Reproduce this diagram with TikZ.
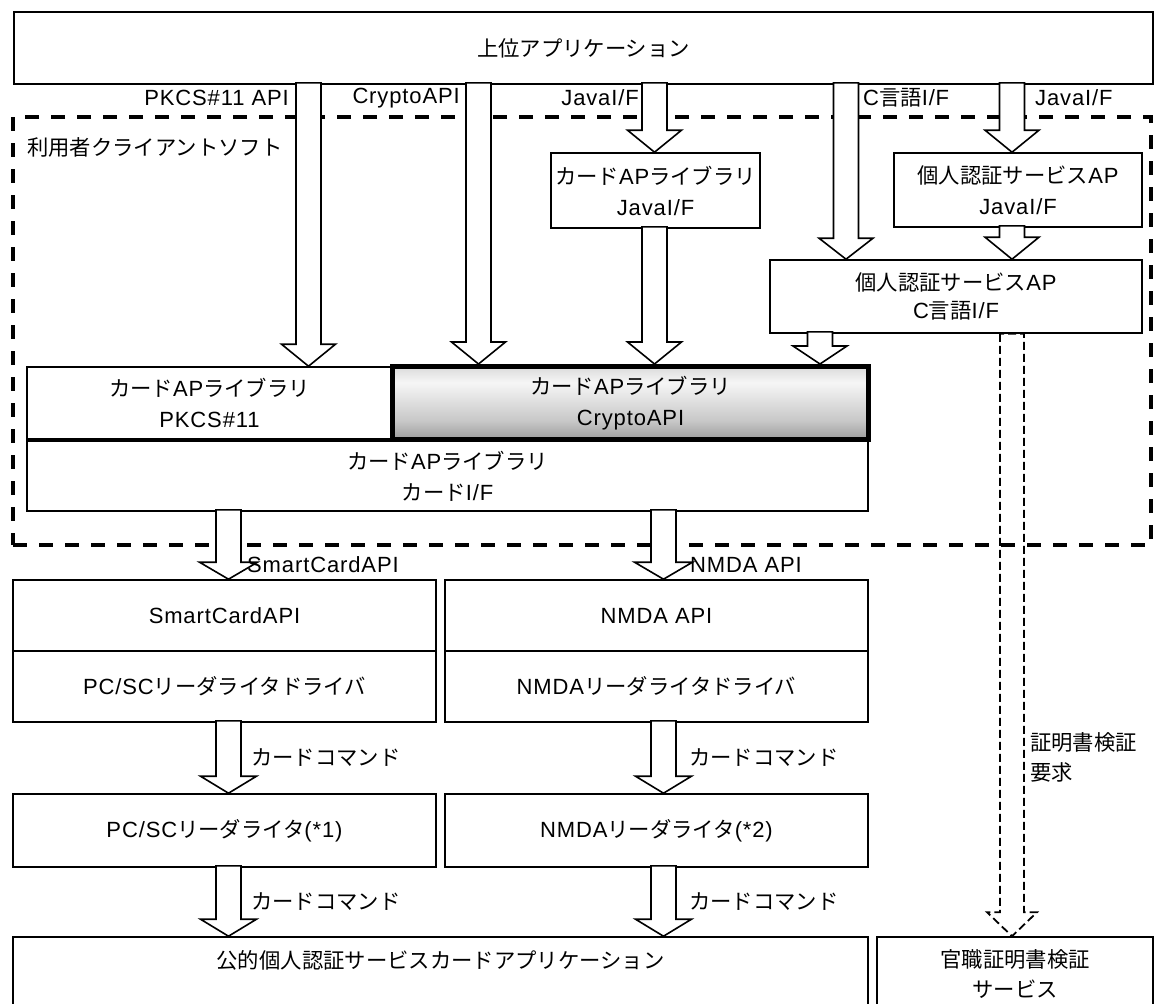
\documentclass[tikz,border=0pt]{standalone}
\usepackage{fontspec}
\setmainfont{Liberation Sans}[LetterSpace=4]
\newfontfamily\jpf{Noto Sans CJK JP}[Scale=0.97]
\newcommand\jpt[1]{{\jpf #1}}
\usetikzlibrary{calc}
\definecolor{gA}{HTML}{3A3A3A}
\definecolor{gB}{HTML}{707070}
\definecolor{gC}{HTML}{C8C8C8}
\definecolor{gD}{HTML}{F6F6F6}
\definecolor{gE}{HTML}{C4C4C4}
\definecolor{gF}{HTML}{747474}
\pgfdeclareverticalshading{cryptoshade}{100bp}{color(0bp)=(gA); color(12bp)=(gB); color(38bp)=(gC); color(64bp)=(gD); color(84bp)=(gE); color(100bp)=(gF)}
\tikzset{
  box/.style={draw, line width=1.6pt, inner sep=0pt, align=center, font=\fontsize{22}{31}\selectfont},
  lbl/.style={inner sep=0pt, font=\fontsize{22}{30}\selectfont},
  barr/.style={draw, fill=white, line width=1.6pt, line join=miter},
  darr/.style={draw, line width=1.8pt, dash pattern=on 8pt off 4pt},
  region/.style={draw, line width=4pt, dash pattern=on 14pt off 12pt, inner sep=0pt},
}
% block arrow: x, from node, to node, head length, head half width
\newcommand\barrow[5]{%
  \draw[barr] let \p1=(#1,0 |- #2.south), \p2=(#1,0 |- #3.north) in
    (\x1-12.5pt,\y1+2pt) -- (\x1-12.5pt,\y2+#4pt) -- (\x1-#5pt,\y2+#4pt) -- (\x2,\y2)
    -- (\x1+#5pt,\y2+#4pt) -- (\x1+12.5pt,\y2+#4pt) -- (\x1+12.5pt,\y1+2pt) -- cycle;}
\newcommand\darrow[5]{%
  \draw[darr] let \p1=(#1,0 |- #2.south), \p2=(#1,0 |- #3.north) in
    (\x1-12pt,\y1) -- (\x1-12pt,\y2+#4pt) -- (\x1-#5pt,\y2+#4pt) -- (\x2,\y2)
    -- (\x1+#5pt,\y2+#4pt) -- (\x1+12pt,\y2+#4pt) -- (\x1+12pt,\y1) -- cycle;}
\begin{document}
\begin{tikzpicture}[x=1pt,y=-1pt]
\useasboundingbox (0,0) rectangle (1162,1004);
% top application
\node[box, minimum width=1139pt, minimum height=72pt] (top) at (583.5,48) {\jpt{上位アプリケーション}};
% client software region
\node[region, minimum width=1138pt, minimum height=428pt] (client) at (582,331) {};
\node[lbl, anchor=west] (clientlbl) at (27,147) {\jpt{利用者クライアントソフト}};
% upper boxes
\node[box, minimum width=209pt, minimum height=75pt] (cardjava) at (655.5,190.5) {\jpt{カード}AP\jpt{ライブラリ}\\JavaI/F};
\node[box, minimum width=248pt, minimum height=74pt] (persjava) at (1018,190) {\jpt{個人認証サービス}AP\\JavaI/F};
\node[box, minimum width=372pt, minimum height=73pt, font=\fontsize{22}{28}\selectfont] (cbox) at (956,296.5) {\jpt{個人認証サービス}AP\\C\jpt{言語}I/F};
% card AP libraries
\node[box, minimum width=365pt, minimum height=72pt] (pkcs) at (209.5,403) {\jpt{カード}AP\jpt{ライブラリ}\\PKCS\#11};
\node[box, minimum width=841pt, minimum height=70pt] (cardif) at (447.5,476) {\jpt{カード}AP\jpt{ライブラリ}\\\jpt{カード}I/F};
\node[box, line width=5pt, shade, shading=cryptoshade, minimum width=476pt, minimum height=73pt] (crypto) at (630.5,403) {\jpt{カード}AP\jpt{ライブラリ}\\CryptoAPI};
% driver layer
\node[box, minimum width=423pt, minimum height=71pt] (sc1) at (224.5,615.5) {SmartCardAPI};
\node[box, minimum width=423pt, minimum height=71pt] (sc2) at (224.5,686.5) {PC/SC\jpt{リーダライタドライバ}};
\node[box, minimum width=423pt, minimum height=71pt] (nm1) at (656.5,615.5) {NMDA API};
\node[box, minimum width=423pt, minimum height=71pt] (nm2) at (656.5,686.5) {NMDA\jpt{リーダライタドライバ}};
% readers
\node[box, minimum width=423pt, minimum height=73pt] (pcsc) at (224.5,830.5) {PC/SC\jpt{リーダライタ}(*1)};
\node[box, minimum width=423pt, minimum height=73pt] (nmr) at (656.5,830.5) {NMDA\jpt{リーダライタ}(*2)};
% bottom
\node[box, minimum width=855pt, minimum height=130pt] (app) at (440.5,1002) {};
\node[lbl] (applbl) at (440.5,960) {\jpt{公的個人認証サービスカードアプリケーション}};
\node[box, minimum width=276pt, minimum height=130pt] (cert) at (1015,1002) {};
\node[lbl, align=center] (certlbl) at (1015,973.5) {\jpt{官職証明書検証}\\\jpt{サービス}};
% arrows
\barrow{308.5}{top}{pkcs}{22}{27}
\barrow{478.5}{top}{crypto}{22}{27}
\barrow{654.5}{top}{cardjava}{22}{27}
\barrow{846}{top}{cbox}{21}{27}
\barrow{1012}{top}{persjava}{22}{27}
\barrow{1012}{persjava}{cbox}{22}{27}
\barrow{654.5}{cardjava}{crypto}{22}{27}
\barrow{820}{cbox}{crypto}{18}{27}
\barrow{228.5}{cardif}{sc1}{17}{29}
\barrow{663.5}{cardif}{nm1}{17}{29}
\barrow{228.5}{sc2}{pcsc}{17}{28}
\barrow{663.5}{nm2}{nmr}{17}{28}
\barrow{228.5}{pcsc}{app}{17}{28}
\barrow{663.5}{nmr}{app}{17}{28}
\darrow{1012}{cbox}{cert}{24}{25}
% interface labels
\node[lbl, anchor=east] (l1) at (289,98) {PKCS\#11 API};
\node[lbl, anchor=east] (l2) at (460,98) {CryptoAPI};
\node[lbl, anchor=east] (l3) at (639,98) {JavaI/F};
\node[lbl, anchor=west] (l4) at (863,98) {C\jpt{言語}I/F};
\node[lbl, anchor=west] (l5) at (1035,98) {JavaI/F};
\node[lbl, anchor=west] (l6) at (247,565) {SmartCardAPI};
\node[lbl, anchor=west] (l7) at (690,565) {NMDA API};
\node[lbl, anchor=west] (l8) at (251,758) {\jpt{カードコマンド}};
\node[lbl, anchor=west] (l9) at (689,758) {\jpt{カードコマンド}};
\node[lbl, anchor=west] (l10) at (251,902) {\jpt{カードコマンド}};
\node[lbl, anchor=west] (l11) at (689,902) {\jpt{カードコマンド}};
\node[lbl, anchor=west, align=left] (l12) at (1030,757) {\jpt{証明書検証}\\\jpt{要求}};
\end{tikzpicture}
\end{document}
